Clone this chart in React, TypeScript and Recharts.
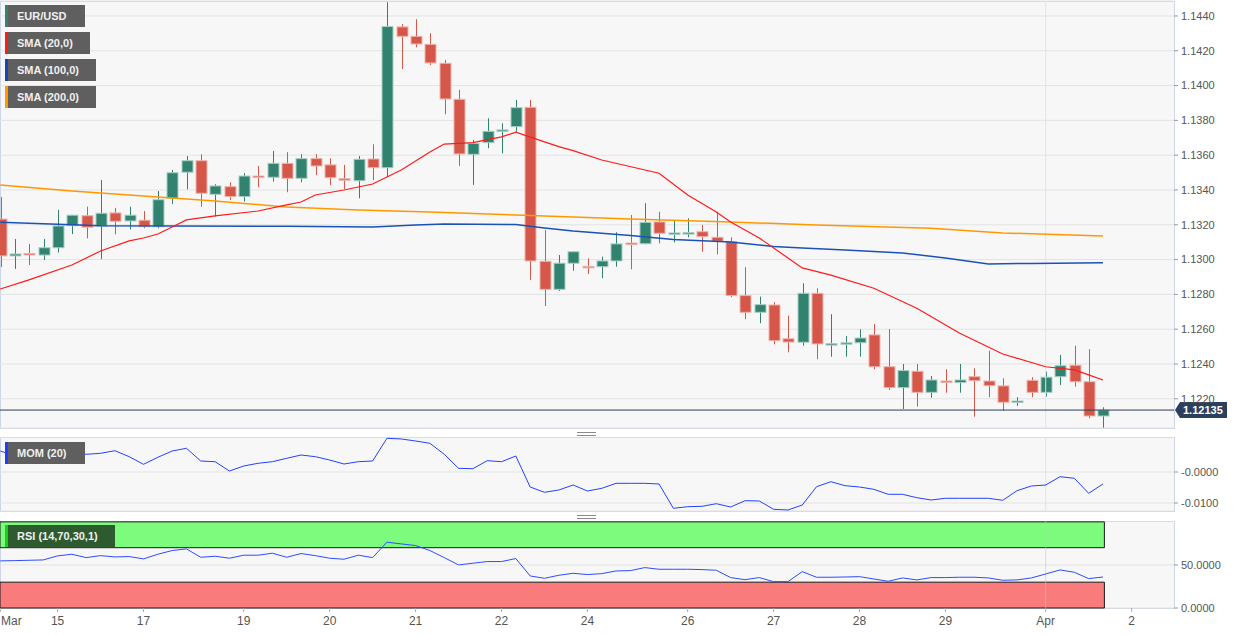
import React from 'react';
import { ComposedChart, Bar, Line, XAxis, YAxis, CartesianGrid, ReferenceLine, ReferenceArea } from 'recharts';

// ---------- DATA (4h candles, index = slot on the time axis) ----------
const openP = [
  1.13233, 1.13021, 1.13035, 1.13026, 1.13068, 1.13195, 1.13252, 1.13193, 1.13268, 1.13222,
  1.13226, 1.13189, 1.13352, 1.13502, 1.13568, 1.13375, 1.13419, 1.13362, 1.13480, 1.13473,
  1.13553, 1.13467, 1.13580, 1.13544, 1.13465, 1.13453, 1.13578, 1.13528, 1.14337, 1.14283,
  1.14237, 1.14128, 1.13921, 1.13605, 1.13672, 1.13737, 1.13764, 1.13875, 1.12990, 1.12829,
  1.12979, 1.12961, 1.12959, 1.12992, 1.13095, 1.13091, 1.13216, 1.13149, 1.13149, 1.13160,
  1.13128, 1.13103, 1.12793, 1.12697, 1.12739, 1.12545, 1.12525, 1.12806, 1.12513, 1.12517,
  1.12522, 1.12567, 1.12384, 1.12264, 1.12358, 1.12237, 1.12302, 1.12293, 1.12327, 1.12302,
  1.12274, 1.12180, 1.12306, 1.12237, 1.12327, 1.12393, 1.12298, 1.12101,
];
const highP = [
  1.13360, 1.13118, 1.13090, 1.13118, 1.13285, 1.13256, 1.13304, 1.13457, 1.13297, 1.13304,
  1.13279, 1.13394, 1.13515, 1.13595, 1.13605, 1.13433, 1.13444, 1.13496, 1.13538, 1.13624,
  1.13617, 1.13605, 1.13605, 1.13582, 1.13544, 1.13595, 1.13663, 1.14479, 1.14354, 1.14381,
  1.14301, 1.14147, 1.13975, 1.13687, 1.13812, 1.13783, 1.13917, 1.13917, 1.13170, 1.13026,
  1.13045, 1.13007, 1.13017, 1.13157, 1.13256, 1.13324, 1.13275, 1.13224, 1.13237, 1.13199,
  1.13275, 1.13128, 1.12956, 1.12787, 1.12755, 1.12678, 1.12864, 1.12835, 1.12686, 1.12561,
  1.12599, 1.12630, 1.12601, 1.12400, 1.12400, 1.12331, 1.12370, 1.12400, 1.12375, 1.12476,
  1.12318, 1.12209, 1.12324, 1.12356, 1.12452, 1.12505, 1.12485, 1.12151,
];
const lowP = [
  1.12957, 1.12946, 1.12969, 1.12998, 1.13040, 1.13147, 1.13122, 1.13002, 1.13145, 1.13174,
  1.13180, 1.13180, 1.13320, 1.13404, 1.13304, 1.13247, 1.13343, 1.13333, 1.13416, 1.13448,
  1.13387, 1.13444, 1.13486, 1.13429, 1.13406, 1.13352, 1.13457, 1.13473, 1.14095, 1.14220,
  1.14118, 1.13835, 1.13538, 1.13429, 1.13640, 1.13611, 1.13735, 1.12883, 1.12733, 1.12820,
  1.12936, 1.12917, 1.12893, 1.12959, 1.12944, 1.13088, 1.13093, 1.13099, 1.13128, 1.13045,
  1.13030, 1.12783, 1.12657, 1.12634, 1.12513, 1.12467, 1.12505, 1.12427, 1.12442, 1.12442,
  1.12442, 1.12370, 1.12251, 1.12141, 1.12155, 1.12206, 1.12235, 1.12235, 1.12097, 1.12209,
  1.12132, 1.12159, 1.12209, 1.12212, 1.12279, 1.12270, 1.12088, 1.12034,
];
const closeP = [
  1.13021, 1.13032, 1.13029, 1.13068, 1.13193, 1.13255, 1.13186, 1.13266, 1.13220, 1.13255,
  1.13189, 1.13344, 1.13499, 1.13568, 1.13381, 1.13423, 1.13362, 1.13480, 1.13473, 1.13553,
  1.13467, 1.13580, 1.13538, 1.13471, 1.13456, 1.13576, 1.13528, 1.14339, 1.14283, 1.14239,
  1.14130, 1.13923, 1.13607, 1.13668, 1.13737, 1.13745, 1.13873, 1.12992, 1.12829, 1.12979,
  1.13045, 1.12953, 1.12992, 1.13090, 1.13088, 1.13214, 1.13151, 1.13153, 1.13155, 1.13132,
  1.13105, 1.12793, 1.12697, 1.12741, 1.12534, 1.12526, 1.12806, 1.12515, 1.12517, 1.12522,
  1.12549, 1.12384, 1.12264, 1.12362, 1.12237, 1.12308, 1.12298, 1.12308, 1.12304, 1.12275,
  1.12180, 1.12187, 1.12237, 1.12324, 1.12390, 1.12298, 1.12101, 1.12135,
];

const sma20Idx = [0, 2, 5, 7, 9, 10, 11, 12, 13, 15, 18, 20, 21, 22, 24, 26, 28, 30, 31, 33, 35, 36, 38, 39, 40, 42, 46, 48, 50, 51, 53, 56, 58, 61, 64, 67, 70, 73, 75, 76, 77];
const sma20Val = [
  1.12831, 1.12883, 1.12969, 1.13049, 1.13107, 1.13124, 1.13147, 1.13187, 1.13228, 1.13251,
  1.13279, 1.13314, 1.13331, 1.13371, 1.13400, 1.13434, 1.13515, 1.13618, 1.13664, 1.13672,
  1.13705, 1.13732, 1.13676, 1.13649, 1.13626, 1.13572, 1.13496, 1.13371, 1.13274, 1.13216,
  1.13124, 1.12952, 1.12911, 1.12835, 1.12720, 1.12576, 1.12457, 1.12384, 1.12366, 1.12337,
  1.12308,
];
const sma100Idx = [0, 7, 12, 20, 26, 29, 31, 36, 38, 40, 44, 47, 51, 54, 56, 59, 63, 66, 69, 72, 77];
const sma100Val = [
  1.13214, 1.13195, 1.13193, 1.13191, 1.13187, 1.13199, 1.13205, 1.13201, 1.13182, 1.13164,
  1.13139, 1.13116, 1.13101, 1.13075, 1.13067, 1.13055, 1.13038, 1.13009, 1.12975, 1.12978,
  1.12982,
];
const sma200Idx = [0, 5, 10, 15, 20, 25, 30, 37, 44, 51, 57, 65, 70, 77];
const sma200Val = [
  1.13429, 1.13394, 1.13366, 1.13337, 1.13302, 1.13285, 1.13274, 1.13253, 1.13233, 1.13216,
  1.13199, 1.13180, 1.13153, 1.13136,
];

const mom20 = [
  0.00677, 0.00526, 0.00758, 0.00816, 0.00710, 0.00635, 0.00571, 0.00603, 0.00687, 0.00494,
  0.00248, 0.00474, 0.00677, 0.00765, 0.00355, 0.00332, 0.00032, 0.00194, 0.00281, 0.00332,
  0.00442, 0.00548, 0.00494, 0.00387, 0.00258, 0.00332, 0.00355, 0.01087, 0.01065, 0.01000,
  0.00926, 0.00571, 0.00119, 0.00106, 0.00365, 0.00332, 0.00516, -0.00484, -0.00655, -0.00581,
  -0.00419, -0.00613, -0.00526, -0.00365, -0.00365, -0.00365, -0.00387, -0.01171, -0.01119, -0.01106,
  -0.01023, -0.01129, -0.00926, -0.00935, -0.01203, -0.01226, -0.01065, -0.00474, -0.00313, -0.00442,
  -0.00484, -0.00558, -0.00719, -0.00719, -0.00829, -0.00903, -0.00848, -0.00848, -0.00848, -0.00848,
  -0.00913, -0.00603, -0.00452, -0.00419, -0.00152, -0.00203, -0.00687, -0.00387,
];

const rsi14 = [
  54.7, 55.0, 55.4, 55.8, 60.5, 62.4, 58.5, 60.8, 59.3, 59.7,
  57.0, 62.4, 66.7, 68.6, 58.9, 60.1, 57.8, 61.3, 61.3, 63.6,
  58.9, 63.2, 60.8, 57.8, 56.6, 61.3, 58.5, 76.4, 74.4, 72.5,
  66.7, 58.5, 50.0, 52.0, 53.9, 53.9, 57.4, 37.2, 34.5, 38.0,
  40.3, 38.8, 39.9, 43.0, 43.4, 46.9, 45.0, 45.0, 45.0, 44.6,
  43.8, 35.3, 32.9, 35.3, 30.6, 30.6, 42.2, 35.7, 35.7, 36.0,
  36.4, 33.7, 31.0, 34.9, 32.6, 35.3, 35.3, 35.7, 35.7, 34.9,
  32.2, 32.6, 34.9, 39.5, 44.2, 41.5, 34.1, 36.0,
];

const xTickIdx = [0, 4, 10, 17, 23, 29, 35, 41, 48, 54, 60, 66, 73, 79];
const xTickLabels = ['Mar', '15', '17', '19', '20', '21', '22', '24', '26', '27', '28', '29', 'Apr', '2'];
const priceTicks = [1.122, 1.124, 1.126, 1.128, 1.13, 1.132, 1.134, 1.136, 1.138, 1.14, 1.142, 1.144];
const momTicks = [0, -0.01];
const rsiTicks = [0, 50];
const lastPrice = 1.12135;
const monthStartIdx = 73;
const rsiBands = { upper: 70, lower: 30 };

// ---------- STYLE ----------
const W = 1244;
const AXIS_W = 70;
const X_DOMAIN: [number, number] = [-0.02, 81.96];
const GREEN = '#31826f';
const RED = '#d4574a';
const FONT = '"Liberation Sans", Arial, sans-serif';
const GRID = '#e3e3e3';
const BORDER = '#cdd6e6';
const PLOT_BG = '#f7f7f7';

type Row = {
  i: number; o: number; h: number; l: number; c: number; range: [number, number];
  s20: number | null; s100: number | null; s200: number | null; mom: number; rsi: number;
};

const rows: Row[] = openP.map((o, i) => ({
  i, o, h: highP[i], l: lowP[i], c: closeP[i], range: [lowP[i], highP[i]],
  s20: null, s100: null, s200: null, mom: mom20[i], rsi: rsi14[i],
}));
sma20Idx.forEach((k, j) => { rows[k].s20 = sma20Val[j]; });
sma100Idx.forEach((k, j) => { rows[k].s100 = sma100Val[j]; });
sma200Idx.forEach((k, j) => { rows[k].s200 = sma200Val[j]; });

function Candle(props: any) {
  const { x, y, width, height, payload } = props;
  if (!payload || x == null) return null;
  const { o, h, l, c } = payload as Row;
  const top = Math.min(y, y + height);
  const hh = Math.abs(height);
  const ratio = h - l > 0 ? hh / (h - l) : 0;
  const yOf = (v: number) => top + (h - v) * ratio;
  const up = c >= o;
  const color = up ? GREEN : RED;
  const edge = up ? '#a8cec4' : '#efb3ab';
  const cx = Math.round(x + width / 2) + 0.5;
  const bTop = yOf(Math.max(o, c));
  const bBot = yOf(Math.min(o, c));
  const bh = Math.max(1.5, bBot - bTop);
  return (
    <g>
      <line x1={cx} x2={cx} y1={top} y2={top + hh} stroke={color} strokeWidth={1} />
      <rect x={cx - 5.5} y={bTop} width={11} height={bh} fill={color} stroke={edge} strokeWidth={1} />
    </g>
  );
}

function PriceTag(props: any) {
  const vb = props.viewBox || {};
  const x0 = (vb.x || 0) + (vb.width || 0);
  const y0 = vb.y || 0;
  return (
    <g>
      <path
        d={`M${x0 + 1},${y0} L${x0 + 6},${y0 - 8} L${x0 + 53},${y0 - 8} L${x0 + 53},${y0 + 8} L${x0 + 6},${y0 + 8} Z`}
        fill="#2b3f5e"
      />
      <text x={x0 + 9} y={y0 + 4} fill="#ffffff" fontSize={11} fontWeight="bold" fontFamily={FONT}>
        {lastPrice.toFixed(5)}
      </text>
    </g>
  );
}

function XTick(props: any) {
  const { x, y, payload } = props;
  const k = xTickIdx.indexOf(payload.value);
  const first = k === 0;
  return (
    <text
      x={first ? 1 : x}
      y={y + 11}
      textAnchor={first ? 'start' : 'middle'}
      fill="#555"
      fontSize={12}
      fontFamily={FONT}
    >
      {k >= 0 ? xTickLabels[k] : ''}
    </text>
  );
}

const yTick = { fill: '#555', fontSize: 11, fontFamily: FONT };

function LegendBox(props: { top: number; width: number; stripe: string; text: string; bg?: string }) {
  return (
    <div
      style={{
        position: 'absolute', left: 5, top: props.top, width: props.width, height: 22,
        background: props.bg || '#5f5f5f', boxSizing: 'border-box', borderLeft: `3px solid ${props.stripe}`,
        color: '#f0f0f0', fontFamily: FONT, fontWeight: 'bold', fontSize: 11, lineHeight: '22px',
        paddingLeft: 9, whiteSpace: 'nowrap', zIndex: 5,
      }}
    >
      {props.text}
    </div>
  );
}

function PanelFrame(props: { top: number; height: number }) {
  return (
    <div
      style={{
        position: 'absolute', left: 0, top: props.top, width: W - AXIS_W + 1, height: props.height,
        background: PLOT_BG, border: `1px solid ${BORDER}`, boxSizing: 'border-box',
      }}
    />
  );
}

function Handle(props: { top: number }) {
  return (
    <div style={{ position: 'absolute', left: 577, top: props.top, width: 19, height: 4, borderTop: '1px solid #8a8a8a', borderBottom: '1px solid #8a8a8a', boxSizing: 'border-box' }} />
  );
}

export default function App() {
  return (
    <div style={{ position: 'absolute', left: 0, top: 0, width: W, height: 635, background: '#fff', overflow: 'hidden' }}>
      <PanelFrame top={1} height={428} />
      <PanelFrame top={437} height={75} />
      <PanelFrame top={521} height={88} />
      <Handle top={432} />
      <Handle top={515} />

      {/* price panel */}
      <div style={{ position: 'absolute', left: 0, top: 0 }}>
        <ComposedChart width={W} height={430} data={rows} margin={{ top: 1, right: 0, bottom: 2, left: 0 }}>
          <CartesianGrid vertical={false} stroke={GRID} />
          <XAxis dataKey="i" type="number" domain={X_DOMAIN} allowDataOverflow hide />
          <YAxis
            orientation="right" width={AXIS_W} domain={[1.12032, 1.14486]} allowDataOverflow
            ticks={priceTicks} tickFormatter={(v: number) => v.toFixed(4)} tick={yTick}
            tickSize={4} tickMargin={3} tickLine={{ stroke: '#999' }} axisLine={false} interval={0}
          />
          <ReferenceLine x={monthStartIdx} stroke={GRID} />
          <Line dataKey="s200" stroke="#ff9800" strokeWidth={1.5} dot={false} connectNulls isAnimationActive={false} />
          <Line dataKey="s100" stroke="#1a52b5" strokeWidth={1.5} dot={false} connectNulls isAnimationActive={false} />
          <Bar dataKey="range" barSize={11} shape={<Candle />} isAnimationActive={false} />
          <Line dataKey="s20" stroke="#ff1a1a" strokeWidth={1.2} dot={false} connectNulls isAnimationActive={false} />
          <ReferenceLine y={lastPrice} stroke="#2b3d58" strokeWidth={1} label={<PriceTag />} />
        </ComposedChart>
      </div>

      {/* momentum panel */}
      <div style={{ position: 'absolute', left: 0, top: 437 }}>
        <ComposedChart width={W} height={75} data={rows} margin={{ top: 0, right: 0, bottom: 1, left: 0 }}>
          <CartesianGrid vertical={false} stroke={GRID} />
          <XAxis dataKey="i" type="number" domain={X_DOMAIN} allowDataOverflow hide />
          <YAxis
            orientation="right" width={AXIS_W} domain={[-0.01258, 0.01129]} allowDataOverflow
            ticks={momTicks} tickFormatter={(v: number) => (v === 0 ? '-0.0000' : v.toFixed(4))} tick={yTick}
            tickSize={4} tickMargin={3} tickLine={{ stroke: '#999' }} axisLine={false} interval={0}
          />
          <ReferenceLine x={monthStartIdx} stroke={GRID} />
          <Line dataKey="mom" stroke="#2441ff" strokeWidth={1} dot={false} isAnimationActive={false} />
        </ComposedChart>
      </div>

      {/* RSI panel */}
      <div style={{ position: 'absolute', left: 0, top: 521 }}>
        <ComposedChart width={W} height={114} data={rows} margin={{ top: 0, right: 0, bottom: 0, left: 0 }}>
          <CartesianGrid vertical={false} stroke={GRID} />
          <XAxis
            dataKey="i" type="number" domain={X_DOMAIN} allowDataOverflow height={27}
            ticks={xTickIdx} interval={0} tick={<XTick />} tickSize={4} tickMargin={2}
            tickLine={{ stroke: '#aaa' }} axisLine={false}
          />
          <YAxis
            orientation="right" width={AXIS_W} domain={[0, 101]} allowDataOverflow
            ticks={rsiTicks} tickFormatter={(v: number) => v.toFixed(4)} tick={yTick}
            tickSize={4} tickMargin={3} tickLine={{ stroke: '#999' }} axisLine={false} interval={0}
          />
          <ReferenceArea x1={-0.02} x2={77.1} y1={rsiBands.upper} y2={100} fill="#7dfb7d" fillOpacity={1} stroke="#1b1b1b" strokeWidth={1} />
          <ReferenceArea x1={-0.02} x2={77.1} y1={0} y2={rsiBands.lower} fill="#fa7b7b" fillOpacity={1} stroke="#1b1b1b" strokeWidth={1} />
          <ReferenceLine x={monthStartIdx} stroke="rgba(200,200,200,0.6)" />
          <Line dataKey="rsi" stroke="#2d4dff" strokeWidth={1} dot={false} isAnimationActive={false} />
        </ComposedChart>
      </div>

      <LegendBox top={5} width={80} stripe={GREEN} text="EUR/USD" />
      <LegendBox top={32} width={85} stripe="#ff1a1a" text="SMA (20,0)" />
      <LegendBox top={59} width={91} stripe="#1446b5" text="SMA (100,0)" />
      <LegendBox top={86} width={91} stripe="#ff9900" text="SMA (200,0)" />
      <LegendBox top={442} width={80} stripe="#1f3dff" text="MOM (20)" />
      <LegendBox top={525} width={110} stripe="#19d019" bg="#2e5a30" text="RSI (14,70,30,1)" />
    </div>
  );
}
